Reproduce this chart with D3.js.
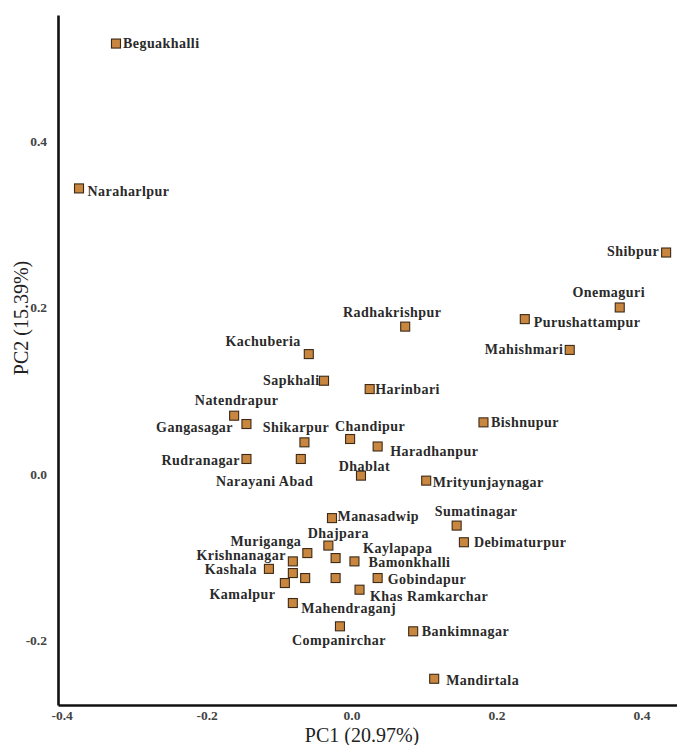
<!DOCTYPE html>
<html>
<head>
<meta charset="utf-8">
<script src="https://cdn.jsdelivr.net/npm/d3@7/dist/d3.min.js"></script>
<style>
  html, body { margin: 0; padding: 0; background: #fff; }
  svg { display: block; }
</style>
</head>
<body>
<svg id="chart" width="677" height="745"></svg>
<script>
// Sampling sites (village names; "" = unlabelled site)
const sites = [
  "Beguakhalli", "Naraharlpur", "Shibpur", "Onemaguri", "Purushattampur",
  "Mahishmari", "Radhakrishpur", "Kachuberia", "Sapkhali", "Harinbari",
  "Bishnupur", "Natendrapur", "Gangasagar", "Shikarpur", "Chandipur",
  "Haradhanpur", "Rudranagar", "Narayani Abad", "Dhablat", "Mrityunjaynagar",
  "Manasadwip", "Sumatinagar", "Debimaturpur", "Dhajpara", "Muriganga",
  "Krishnanagar", "Kaylapapa", "Bamonkhalli", "Kashala", "",
  "Kamalpur", "", "", "Gobindapur", "Khas Ramkarchar",
  "Mahendraganj", "Companirchar", "Bankimnagar", "Mandirtala"
];

// First principal component score of each site
const pc1 = [
  -0.325, -0.376, 0.434, 0.370, 0.239,
  0.301, 0.074, -0.059, -0.038, 0.025,
  0.182, -0.162, -0.145, -0.065, -0.002,
  0.036, -0.145, -0.070, 0.013, 0.103,
  -0.027, 0.145, 0.155, -0.032, -0.061,
  -0.081, -0.022, 0.004, -0.114, -0.081,
  -0.092, -0.064, -0.022, 0.036, 0.011,
  -0.081, -0.016, 0.085, 0.114
];

// Second principal component score of each site
const pc2 = [
  0.517, 0.343, 0.266, 0.200, 0.186,
  0.149, 0.177, 0.144, 0.112, 0.102,
  0.062, 0.070, 0.060, 0.038, 0.042,
  0.033, 0.018, 0.018, -0.002, -0.008,
  -0.053, -0.062, -0.082, -0.086, -0.095,
  -0.105, -0.101, -0.105, -0.114, -0.119,
  -0.131, -0.125, -0.125, -0.125, -0.139,
  -0.155, -0.183, -0.189, -0.246
];

const tickValues = [-0.4, -0.2, 0.0, 0.2, 0.4];
const yTickValues = [-0.2, 0.0, 0.2, 0.4];
const xTitle = "PC1 (20.97%)";
const yTitle = "PC2 (15.39%)";

// Where each site name sits relative to its marker: [dx, dy, text-anchor]
const labelLayout = {
  "Beguakhalli": [7, 0, "start"],
  "Naraharlpur": [8.5, 3, "start"],
  "Shibpur": [-7, -1, "end"],
  "Onemaguri": [-11, -15, "middle"],
  "Purushattampur": [9, 3, "start"],
  "Mahishmari": [-6.5, -1, "end"],
  "Radhakrishpur": [-13, -15, "middle"],
  "Kachuberia": [-8, -13, "end"],
  "Sapkhali": [-4.5, -1, "end"],
  "Harinbari": [5.5, 0, "start"],
  "Bishnupur": [7.5, 0, "start"],
  "Natendrapur": [2.5, -16, "middle"],
  "Gangasagar": [-13.5, 3.5, "end"],
  "Shikarpur": [-8.5, -15, "middle"],
  "Chandipur": [20, -12.5, "middle"],
  "Haradhanpur": [12.5, 4.5, "start"],
  "Rudranagar": [-6.5, 1.3, "end"],
  "Narayani Abad": [12.5, 22.5, "end"],
  "Dhablat": [3.5, -9.5, "middle"],
  "Mrityunjaynagar": [6.5, 1, "start"],
  "Manasadwip": [5.5, -2.3, "start"],
  "Sumatinagar": [19.5, -14, "middle"],
  "Debimaturpur": [10, 0, "start"],
  "Dhajpara": [10, -12.5, "middle"],
  "Muriganga": [-6, -11.5, "end"],
  "Krishnanagar": [-7, -6.5, "end"],
  "Kaylapapa": [27.5, -10, "start"],
  "Bamonkhalli": [14, 0.5, "start"],
  "Kashala": [-12, 0, "end"],
  "Kamalpur": [-9.5, 11.3, "end"],
  "Gobindapur": [10, 1, "start"],
  "Khas Ramkarchar": [10.5, 6, "start"],
  "Mahendraganj": [8.5, 4.6, "start"],
  "Companirchar": [-1, 13.3, "middle"],
  "Bankimnagar": [8.5, 0, "start"],
  "Mandirtala": [12, 1, "start"]
};

const points = sites.map((name, i) => ({ name, x: pc1[i], y: pc2[i] }));

const svg = d3.select("#chart");
const serif = "'Liberation Serif', 'Times New Roman', serif";

const x = d3.scaleLinear().domain([-0.405, 0.449]).range([58, 677]);
const y = d3.scaleLinear().domain([-0.2775, 0.5513]).range([705, 15]);

const fmt = d => d.toFixed(1);

// Axes: plain black spines, no tick marks
const gx = svg.append("g")
  .attr("transform", `translate(0,${y.range()[0]})`)
  .call(d3.axisBottom(x).tickValues(tickValues).tickFormat(fmt)
    .tickSize(0).tickSizeOuter(0).tickPadding(5));

const gy = svg.append("g")
  .attr("transform", `translate(${x.range()[0]},0)`)
  .call(d3.axisLeft(y).tickValues(yTickValues).tickFormat(fmt)
    .tickSize(0).tickSizeOuter(0).tickPadding(11));

[gx, gy].forEach(g => {
  g.select(".domain").attr("stroke", "#111").attr("stroke-width", 2.6);
  g.selectAll(".tick text")
    .attr("font-family", serif)
    .attr("font-weight", "bold")
    .attr("font-size", 13.5)
    .attr("fill", "#444");
});

// Axis titles
svg.append("text")
  .attr("x", 362).attr("y", 742)
  .attr("text-anchor", "middle")
  .attr("font-family", serif)
  .attr("font-size", 20)
  .attr("fill", "#222")
  .text(xTitle);

svg.append("text")
  .attr("transform", "translate(28,318) rotate(-90)")
  .attr("text-anchor", "middle")
  .attr("font-family", serif)
  .attr("font-size", 20)
  .attr("fill", "#222")
  .text(yTitle);

// Site markers
const size = 9;
svg.append("g").selectAll("rect")
  .data(points)
  .join("rect")
  .attr("x", d => x(d.x) - size / 2)
  .attr("y", d => y(d.y) - size / 2)
  .attr("width", size)
  .attr("height", size)
  .attr("fill", "#c8863f")
  .attr("stroke", "#3b2a18")
  .attr("stroke-width", 1.1);

// Site names
svg.append("g").selectAll("text")
  .data(points.filter(d => d.name && labelLayout[d.name]))
  .join("text")
  .attr("x", d => x(d.x) + labelLayout[d.name][0])
  .attr("y", d => y(d.y) + labelLayout[d.name][1])
  .attr("dy", "0.35em")
  .attr("text-anchor", d => labelLayout[d.name][2])
  .attr("font-family", serif)
  .attr("font-weight", "bold")
  .attr("font-size", 14)
  .attr("letter-spacing", 0.45)
  .attr("fill", "#2a2a2a")
  .text(d => d.name);
</script>
</body>
</html>
